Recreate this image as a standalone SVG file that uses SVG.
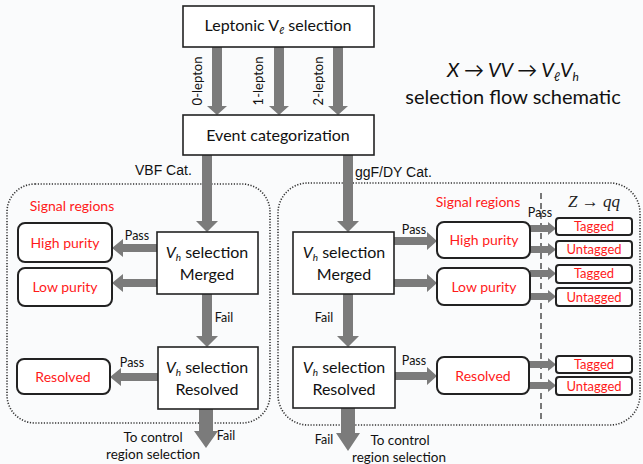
<svg xmlns="http://www.w3.org/2000/svg" width="643" height="464" viewBox="0 0 643 464">
  <style>
    .bg { fill: #fafbfc; }
    .box { fill: #ffffff; stroke: #222; stroke-width: 1.6; }
    .rbox { fill: #ffffff; stroke: #222; stroke-width: 2; }
    .region { fill: none; stroke: #333; stroke-width: 1.6; stroke-dasharray: 1.2 1.6; }
    .split { fill: none; stroke: #222; stroke-width: 1.2; stroke-dasharray: 6 4; }
    .arr { fill: #7b7b7b; }
    .t { font-family: Lato, "Open Sans", sans-serif; fill: #111; text-anchor: middle; }
    .big { font-size: 16px; }
    .lab { font-size: 12.5px; }
    .red { fill: #ff1a1a; font-size: 14px; }
    .tag { fill: #ff1a1a; font-size: 13px; }
    .arial { font-family: "Liberation Sans", Arial, sans-serif; font-size: 14px; fill: #111; }
    .it { font-style: italic; }
  </style>

  <rect class="bg" x="0" y="0" width="643" height="464"/>

  <!-- title -->
  <g id="title">
    <text class="t it" x="513" y="77" font-size="20">X <tspan font-style="normal">→</tspan> VV <tspan font-style="normal">→</tspan> V<tspan font-size="12" dy="4">ℓ</tspan><tspan dy="-4">V</tspan><tspan font-size="12" dy="4">h</tspan></text>
    <text class="t" x="513" y="104" font-size="20">selection flow schematic</text>
  </g>

  <!-- dotted region frames -->
  <g id="regions">
    <rect class="region" x="7" y="184" width="263" height="239" rx="28"/>
    <rect class="region" x="278" y="183" width="362" height="242" rx="30"/>
    <line class="split" x1="541" y1="193" x2="541" y2="422"/>
  </g>

  <!-- connectors -->
  <g id="connectors">
    <!-- lepton channels -->
    <path class="arr" d="M212,47 H222 V106 H227 L217,115 L207,106 H212 Z"/>
    <path class="arr" d="M274,47 H284 V106 H289 L279,115 L269,106 H274 Z"/>
    <path class="arr" d="M333,47 H343 V106 H348 L338,115 L328,106 H333 Z"/>
    <!-- category branches -->
    <path class="arr" d="M202,155 H212 V221 H218 L207,232 L196,221 H202 Z"/>
    <path class="arr" d="M343,155 H353 V221 H359 L348,232 L337,221 H343 Z"/>
    <!-- fail: merged to resolved -->
    <path class="arr" d="M202,294 H212 V336 H218 L207,347 L196,336 H202 Z"/>
    <path class="arr" d="M343,294 H353 V336 H359 L348,347 L337,336 H343 Z"/>
    <!-- fail: to control regions -->
    <path class="arr" d="M199,409 H213 V431 H218 L206,448 L194,431 H199 Z"/>
    <path class="arr" d="M341,408 H355 V433 H360 L348,451 L336,433 H341 Z"/>
    <!-- VBF pass arrows (leftwards) -->
    <path class="arr" d="M157,244 V252 H123 V257 L112,248 L123,239 V244 Z"/>
    <path class="arr" d="M157,279 V287 H123 V292 L112,283 L123,274 V279 Z"/>
    <path class="arr" d="M158,373 V381 H121 V386 L110,377 L121,368 V373 Z"/>
    <!-- ggF/DY pass arrows (rightwards) -->
    <path class="arr" d="M394,237 V245 H427 V250 L437,241 L427,232 V237 Z"/>
    <path class="arr" d="M394,279 V287 H427 V292 L437,283 L427,274 V279 Z"/>
    <path class="arr" d="M395,372 V380 H427 V385 L437,376 L427,367 V372 Z"/>
    <!-- Z->qq tagging arrows -->
    <path class="arr" d="M530,225 V232 H548 V235 L556,228.5 L548,222 V225 Z"/>
    <path class="arr" d="M530,246 V253 H548 V256 L556,249.5 L548,243 V246 Z"/>
    <path class="arr" d="M530,270 V277 H548 V280 L556,273.5 L548,267 V270 Z"/>
    <path class="arr" d="M530,293 V300 H548 V303 L556,296.5 L548,290 V293 Z"/>
    <path class="arr" d="M529,361 V368 H548 V371 L556,364.5 L548,358 V361 Z"/>
    <path class="arr" d="M529,382 V389 H548 V392 L556,385.5 L548,379 V382 Z"/>
  </g>

  <!-- connector labels -->
  <g id="labels">
    <text class="t" font-size="13" transform="translate(202,81) rotate(-90)">0-lepton</text>
    <text class="t" font-size="13" transform="translate(263,81) rotate(-90)">1-lepton</text>
    <text class="t" font-size="13" transform="translate(323,81) rotate(-90)">2-lepton</text>
    <text class="arial" x="135" y="175">VBF Cat.</text>
    <text class="arial" x="355" y="177">ggF/DY Cat.</text>
    <text class="t lab" x="137" y="240">Pass</text>
    <text class="t lab" x="132" y="367">Pass</text>
    <text class="t lab" x="224" y="322">Fail</text>
    <text class="t lab" x="226" y="440">Fail</text>
    <text class="t lab" x="414" y="234">Pass</text>
    <text class="t lab" x="414" y="365">Pass</text>
    <text class="t lab" x="540" y="217">Pass</text>
    <text class="t lab" x="324" y="322">Fail</text>
    <text class="t lab" x="324" y="444">Fail</text>
    <text class="t" x="153" y="442" font-size="13.5">To control</text>
    <text class="t" x="153" y="459" font-size="13.5">region selection</text>
    <text class="t" x="400" y="445" font-size="13.5">To control</text>
    <text class="t" x="399" y="462" font-size="13.5">region selection</text>
    <text class="t red" x="72" y="211">Signal regions</text>
    <text class="t red" x="478" y="207">Signal regions</text>
    <text x="594" y="207" font-family="'Liberation Serif', serif" font-style="italic" font-size="17" fill="#222" text-anchor="middle">Z <tspan font-style="normal">→</tspan> qq</text>
  </g>

  <g id="leptonic">
    <rect class="box" x="183" y="6" width="191" height="41"/>
    <text class="t big" x="278" y="31">Leptonic V<tspan font-size="10" dy="3" font-style="italic">ℓ</tspan><tspan dy="-3">  selection</tspan></text>
  </g>

  <g id="event-categorization">
    <rect class="box" x="183" y="115" width="191" height="40"/>
    <text class="t big" x="278" y="141">Event categorization</text>
  </g>

  <g id="vbf-merged">
    <rect class="box" x="157" y="232" width="101" height="62"/>
    <text class="t big" x="207" y="258"><tspan font-style="italic">V</tspan><tspan font-size="10" dy="3" font-style="italic">h</tspan><tspan dy="-3"> selection</tspan></text>
    <text class="t big" x="207" y="280">Merged</text>
  </g>

  <g id="vbf-resolved">
    <rect class="box" x="158" y="347" width="100" height="62"/>
    <text class="t big" x="207" y="373"><tspan font-style="italic">V</tspan><tspan font-size="10" dy="3" font-style="italic">h</tspan><tspan dy="-3"> selection</tspan></text>
    <text class="t big" x="207" y="395">Resolved</text>
  </g>

  <g id="vbf-high-purity">
    <rect class="rbox" x="18" y="223" width="94" height="39" rx="7"/>
    <text class="t red" x="65" y="248">High purity</text>
  </g>

  <g id="vbf-low-purity">
    <rect class="rbox" x="18" y="268" width="94" height="38" rx="7"/>
    <text class="t red" x="65" y="292">Low purity</text>
  </g>

  <g id="vbf-resolved-sr">
    <rect class="rbox" x="17" y="359" width="93" height="35" rx="7"/>
    <text class="t red" x="63" y="382">Resolved</text>
  </g>

  <g id="ggf-merged">
    <rect class="box" x="293" y="232" width="101" height="62"/>
    <text class="t big" x="344" y="258"><tspan font-style="italic">V</tspan><tspan font-size="10" dy="3" font-style="italic">h</tspan><tspan dy="-3"> selection</tspan></text>
    <text class="t big" x="344" y="280">Merged</text>
  </g>

  <g id="ggf-resolved">
    <rect class="box" x="293" y="347" width="102" height="61"/>
    <text class="t big" x="344" y="373"><tspan font-style="italic">V</tspan><tspan font-size="10" dy="3" font-style="italic">h</tspan><tspan dy="-3"> selection</tspan></text>
    <text class="t big" x="344" y="395">Resolved</text>
  </g>

  <g id="ggf-high-purity">
    <rect class="rbox" x="437" y="222" width="93" height="36" rx="7"/>
    <text class="t red" x="484" y="245">High purity</text>
  </g>

  <g id="ggf-low-purity">
    <rect class="rbox" x="437" y="268" width="93" height="37" rx="7"/>
    <text class="t red" x="484" y="292">Low purity</text>
  </g>

  <g id="ggf-resolved-sr">
    <rect class="rbox" x="437" y="357" width="92" height="37" rx="7"/>
    <text class="t red" x="483" y="381">Resolved</text>
  </g>

  <g id="hp-tagged">
    <rect class="rbox" x="556" y="218" width="76" height="17" rx="3"/>
    <text class="t tag" x="594" y="231">Tagged</text>
  </g>
  <g id="hp-untagged">
    <rect class="rbox" x="556" y="241" width="76" height="17" rx="3"/>
    <text class="t tag" x="594" y="254">Untagged</text>
  </g>
  <g id="lp-tagged">
    <rect class="rbox" x="556" y="265" width="76" height="18" rx="3"/>
    <text class="t tag" x="594" y="278">Tagged</text>
  </g>
  <g id="lp-untagged">
    <rect class="rbox" x="556" y="288" width="76" height="18" rx="3"/>
    <text class="t tag" x="594" y="302">Untagged</text>
  </g>
  <g id="res-tagged">
    <rect class="rbox" x="556" y="356" width="76" height="17" rx="3"/>
    <text class="t tag" x="594" y="369">Tagged</text>
  </g>
  <g id="res-untagged">
    <rect class="rbox" x="556" y="377" width="76" height="18" rx="3"/>
    <text class="t tag" x="594" y="391">Untagged</text>
  </g>
</svg>
